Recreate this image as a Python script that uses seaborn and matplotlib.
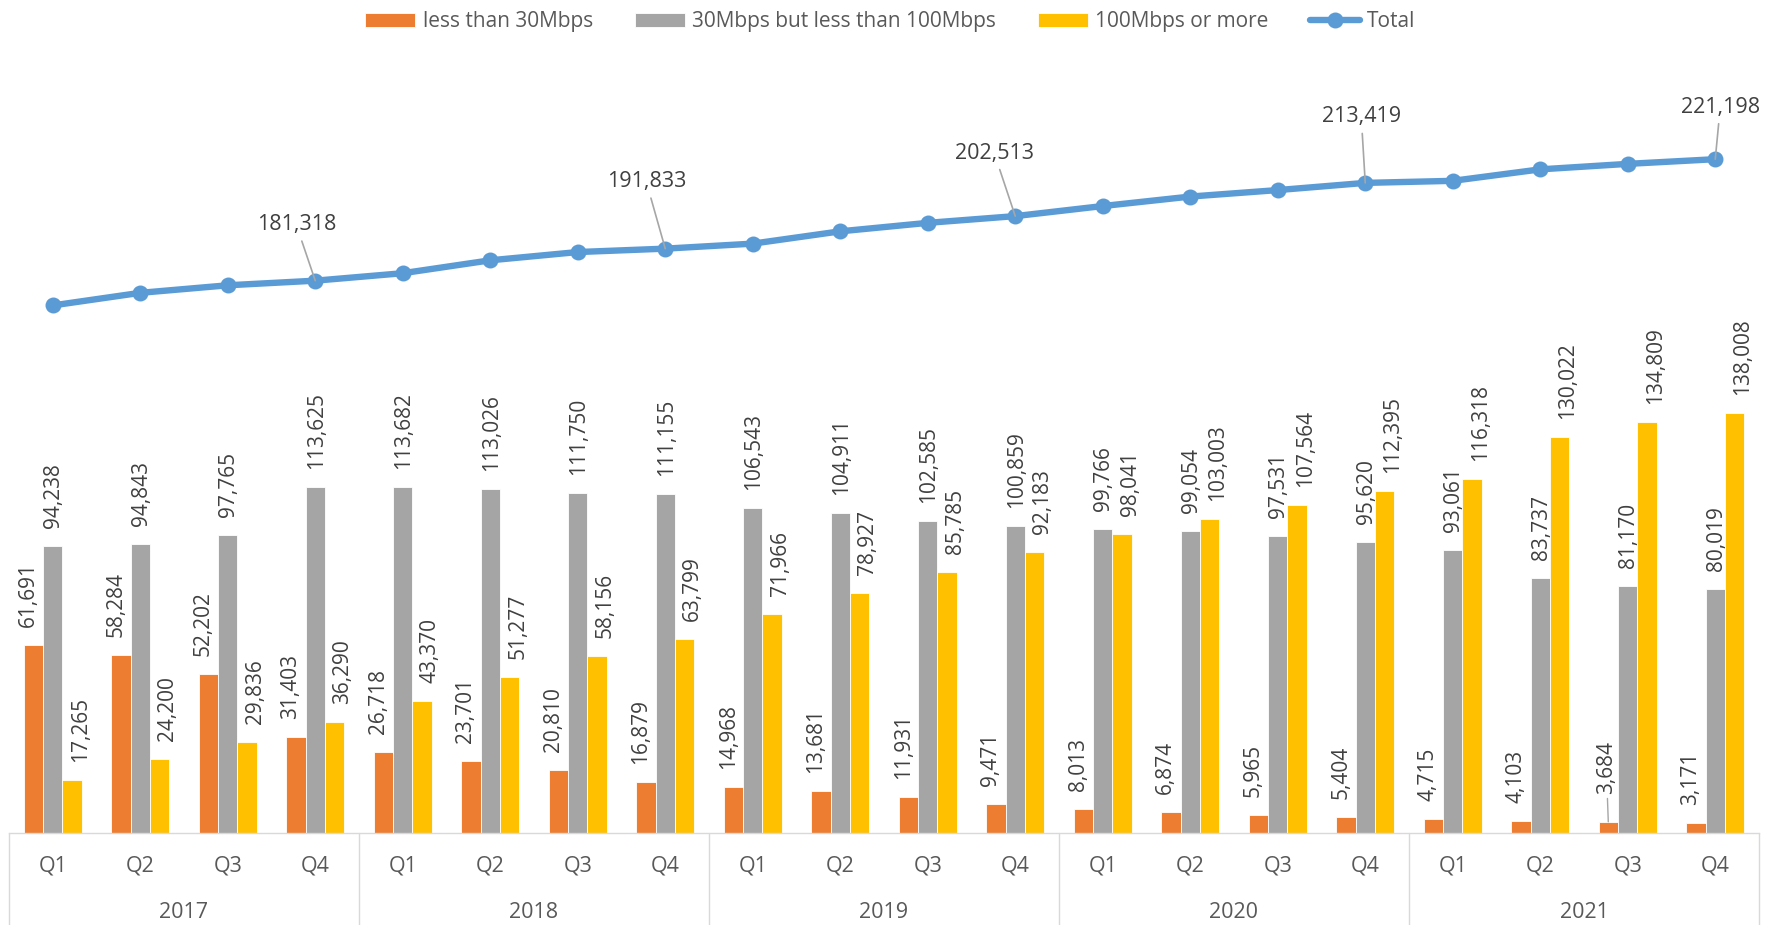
import numpy as np
import pandas as pd
import matplotlib
matplotlib.use("Agg")
import matplotlib.pyplot as plt
import seaborn as sns

years = ["2017", "2018", "2019", "2020", "2021"]
quarters = ["Q1", "Q2", "Q3", "Q4"]
series_names = ["less than 30Mbps", "30Mbps but less than 100Mbps", "100Mbps or more"]

below_30 = [61691, 58284, 52202, 31403,
            26718, 23701, 20810, 16879,
            14968, 13681, 11931, 9471,
            8013, 6874, 5965, 5404,
            4715, 4103, 3684, 3171]
mid_30_100 = [94238, 94843, 97765, 113625,
              113682, 113026, 111750, 111155,
              106543, 104911, 102585, 100859,
              99766, 99054, 97531, 95620,
              93061, 83737, 81170, 80019]
above_100 = [17265, 24200, 29836, 36290,
             43370, 51277, 58156, 63799,
             71966, 78927, 85785, 92183,
             98041, 103003, 107564, 112395,
             116318, 130022, 134809, 138008]
total = [173194, 177327, 179803, 181318,
         183770, 188004, 190716, 191833,
         193477, 197519, 200301, 202513,
         205820, 208931, 211060, 213419,
         214094, 217862, 219663, 221198]

colors = ["#ED7D31", "#A5A5A5", "#FFC000"]
line_color = "#5B9BD5"
text_color = "#404040"
grid_color = "#D9D9D9"
fs = 15

periods = [f"{y} {q}" for y in years for q in quarters]
df = pd.DataFrame({
    "period": periods * 3,
    "series": np.repeat(series_names, len(periods)),
    "value": below_30 + mid_30_100 + above_100,
})

sns.set_theme(style="white")
plt.rcParams["font.family"] = ["Open Sans", "DejaVu Sans"]

fig = plt.figure(figsize=(17.81, 9.25), dpi=100)
ax = fig.add_axes([9 / 1781, 92 / 925, 1750 / 1781, 792 / 925])

sns.barplot(data=df, x="period", y="value", hue="series", hue_order=series_names,
            palette=colors, saturation=1, width=0.667, edgecolor="white",
            linewidth=0.6, ax=ax)
sns.lineplot(x=np.arange(len(total)), y=total, ax=ax, color=line_color,
             linewidth=4.6, marker="o", markersize=11.5, markeredgewidth=0,
             label="Total")

ax.set_xlim(-0.5, len(periods) - 0.5)
ax.set_ylim(0, 260000)
ax.set_xticks([])
ax.set_yticks([])
ax.set_xlabel("")
ax.set_ylabel("")
for s in ["top", "right", "left"]:
    ax.spines[s].set_visible(False)
ax.spines["bottom"].set_color(grid_color)
ax.spines["bottom"].set_linewidth(1)

# bar value labels
x_shift = [-5, 1, 8]
for k, cont in enumerate(ax.containers):
    for i, bar in enumerate(cont):
        h = bar.get_height()
        xc = bar.get_x() + bar.get_width() / 2
        if k == 0 and i == 18:
            ax.annotate(f"{int(h):,}", xy=(xc, h), xytext=(-2, 28),
                        textcoords="offset pixels", rotation=90, ha="center",
                        va="bottom", fontsize=fs, color=text_color,
                        arrowprops=dict(arrowstyle="-", color="#A6A6A6", lw=1,
                                        shrinkA=1, shrinkB=0))
            continue
        ax.annotate(f"{int(h):,}", xy=(xc, h), xytext=(x_shift[k], 18),
                    textcoords="offset pixels", rotation=90, ha="center",
                    va="bottom", fontsize=fs, color=text_color)

# total labels on Q4 of each year, with leader lines
total_offsets = {3: (-19, 56), 7: (-19, 67), 11: (-21, 63), 15: (-4, 66), 19: (5, 52)}
for i, (dx, dy) in total_offsets.items():
    ax.annotate(f"{total[i]:,}", xy=(i, total[i]), xytext=(dx, dy),
                textcoords="offset pixels", ha="center", va="center",
                fontsize=fs + 0.5, color=text_color,
                arrowprops=dict(arrowstyle="-", color="#A6A6A6", lw=1.2,
                                shrinkA=2, shrinkB=0))

# two-level category axis
for i, q in enumerate(quarters * len(years)):
    ax.annotate(q, xy=(i, 0), xycoords=("data", "axes fraction"), xytext=(0, -33),
                textcoords="offset pixels", ha="center", va="center",
                fontsize=fs + 0.5, color="#595959", annotation_clip=False)
for j, y in enumerate(years):
    ax.annotate(y, xy=(4 * j + 1.5, 0), xycoords=("data", "axes fraction"),
                xytext=(0, -79), textcoords="offset pixels", ha="center",
                va="center", fontsize=fs + 0.5, color="#595959", annotation_clip=False)
for j in range(len(years) + 1):
    ax.axvline(4 * j - 0.5, ymin=-0.117, ymax=0, color=grid_color, lw=1, clip_on=False)

handles, labels = ax.get_legend_handles_labels()
if ax.get_legend() is not None:
    ax.get_legend().remove()
fig.legend(handles, labels, loc="upper center", bbox_to_anchor=(0.5, 1.008), ncol=4,
           frameon=False, fontsize=15, handlelength=2.4, handleheight=0.72,
           handletextpad=0.35, columnspacing=2.0, labelcolor="#595959")

fig.savefig("out.png", dpi=100)
